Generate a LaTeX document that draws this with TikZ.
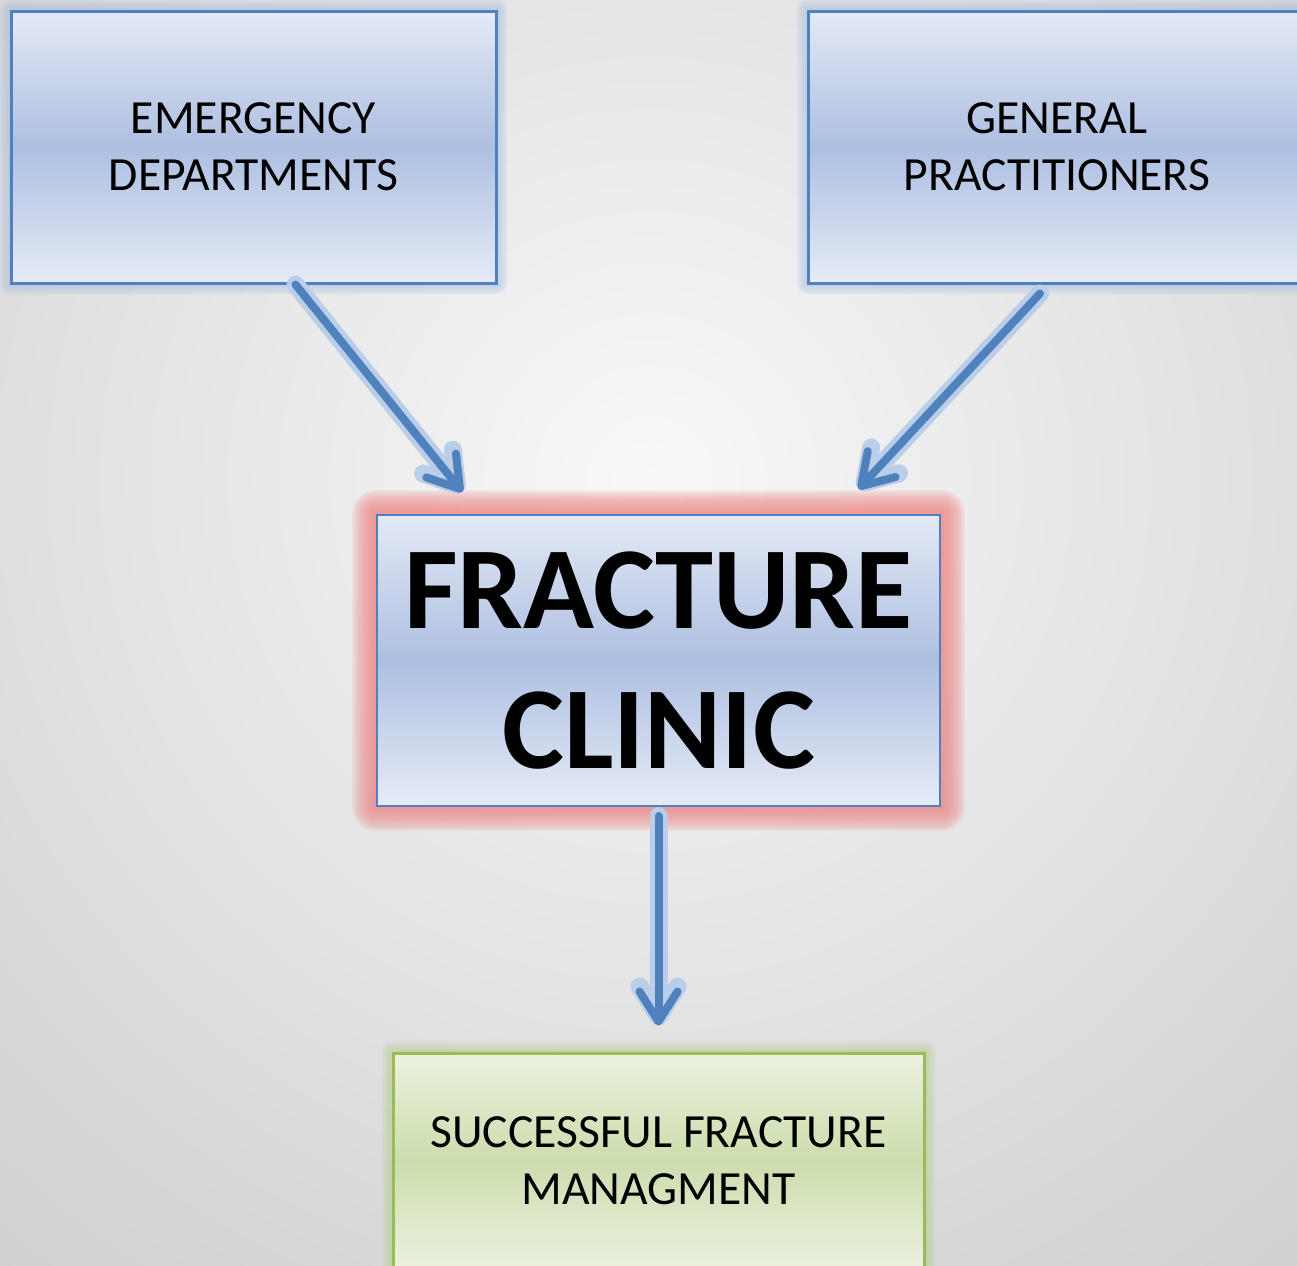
\documentclass[tikz,border=0pt]{standalone}
\usepackage{fontspec}
\setmainfont{Carlito}
\usetikzlibrary{arrows.meta,calc}
\definecolor{bgin}{HTML}{F8F8F8}
\definecolor{bgout}{HTML}{B8B8B8}
\definecolor{boxtop}{HTML}{E4E9F5}
\definecolor{boxmid}{HTML}{ADBFE1}
\definecolor{boxbot}{HTML}{E6EBF6}
\definecolor{bordblue}{HTML}{4F81BD}
\definecolor{glowblue}{HTML}{9DB8DF}
\definecolor{glowpink}{HTML}{EE8E8E}
\definecolor{greentop}{HTML}{EBF1DF}
\definecolor{greenmid}{HTML}{CCDDAD}
\definecolor{greenbord}{HTML}{9BBB59}
\definecolor{glowgreen}{HTML}{B5CC8A}
\pgfdeclarelayer{bg}
\pgfdeclarelayer{glow}
\pgfsetlayers{bg,glow,main}
\newcommand\myglow[5]{%
  \foreach \k in {1,...,#3}{%
    \fill[#2, fill opacity=#5, rounded corners={\k*#4*1pt}]
      ([shift={({-\k*#4*1pt},{-\k*#4*1pt})}]#1.south west) rectangle
      ([shift={({\k*#4*1pt},{\k*#4*1pt})}]#1.north east);}}
\begin{document}
\begin{tikzpicture}[x=0.5pt,y=-0.5pt,
  txt/.style={font=\fontsize{23.8}{28.5}\selectfont},
  bigtxt/.style={font=\fontsize{58.5}{70}\selectfont\bfseries},
  bluebox/.style={draw=bordblue, line width=1.5pt, top color=boxtop, bottom color=boxbot, middle color=boxmid, inner sep=0pt, align=center},
  greenbox/.style={draw=greenbord, line width=1.5pt, top color=greentop, bottom color=greentop, middle color=greenmid, inner sep=0pt, align=center},
  arrglow/.style={draw=glowblue!70!white, line width=9pt, line cap=round, -{Straight Barb[length=15pt,width=19pt,round]}},
  arr/.style={draw=bordblue, line width=4pt, line cap=round, -{Straight Barb[length=15pt,width=19pt,round]}}
]
\useasboundingbox (0,0) rectangle (1297,1265);
\clip (0,0) rectangle (1297,1265);
\begin{pgfonlayer}{bg}
  \shade[inner color=bgin, outer color=bgout] (650,480) circle (820pt);
\end{pgfonlayer}

\node[bluebox, txt, minimum width=242.5pt, minimum height=136pt] (ed) at (253.5,147) {EMERGENCY\\DEPARTMENTS};
\node[bluebox, txt, minimum width=249pt, minimum height=136pt] (gp) at (1057,147) {GENERAL\\PRACTITIONERS};
\node[bluebox, bigtxt, line width=1pt, minimum width=281.5pt, minimum height=145.5pt] (fc) at (658.5,660.5) {FRACTURE\\CLINIC};
\node[greenbox, txt, minimum width=265.5pt, minimum height=108pt] (sm) at (658.5,1161) {SUCCESSFUL FRACTURE\\MANAGMENT};

\begin{pgfonlayer}{glow}
  \myglow{ed}{glowblue}{5}{1}{0.12}
  \myglow{gp}{glowblue}{5}{1}{0.12}
  \myglow{fc}{glowpink}{12}{1}{0.14}
  \myglow{sm}{glowgreen}{5}{1}{0.14}
\end{pgfonlayer}

\coordinate (a1s) at ($(ed.south west)!0.586!(ed.south east)$);
\coordinate (a1e) at ($(fc.north west)!0.153!(fc.north east)+(0,-22)$);
\coordinate (a2s) at ($(gp.south west)!0.466!(gp.south east)+(0,9)$);
\coordinate (a2e) at ($(fc.north west)!0.854!(fc.north east)+(0,-25)$);
\coordinate (a3s) at ($(fc.south)+(0,9)$);
\coordinate (a3e) at ($(sm.north)+(0,-26)$);

\draw[arrglow] (a1s) -- (a1e);
\draw[arrglow] (a2s) -- (a2e);
\draw[arrglow] (a3s) -- (a3e);
\draw[arr] (a1s) -- (a1e);
\draw[arr] (a2s) -- (a2e);
\draw[arr] (a3s) -- (a3e);
\end{tikzpicture}
\end{document}
